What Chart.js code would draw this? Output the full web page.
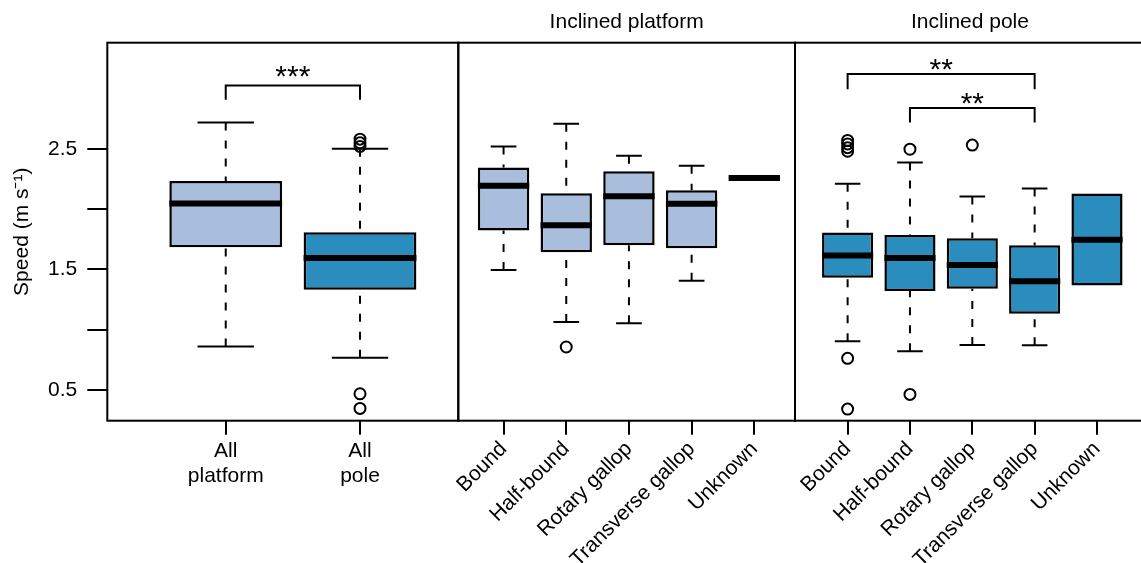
<!DOCTYPE html>
<html>
<head>
<meta charset="utf-8">
<script src="https://cdn.jsdelivr.net/npm/chart.js@4.4.1/dist/chart.umd.min.js"></script>
<style>
  html, body { margin: 0; padding: 0; background: #fff; overflow: hidden; }
  #wrap { position: relative; width: 1141px; height: 563px; overflow: hidden; }
  #wrap canvas { position: absolute; left: 0; top: 0; }
</style>
</head>
<body>
<div id="wrap">
  <canvas id="panelAll" width="1150" height="563"></canvas>
  <canvas id="panelPlatform" width="1150" height="563"></canvas>
  <canvas id="panelPole" width="1150" height="563"></canvas>
</div>
<script>
// --- данные ---
const yTickValues = [0.5, 1, 1.5, 2, 2.5];
const yTickLabels = ['0.5', '', '1.5', '', '2.5'];

// панель 1: все платформы / все шесты
const allCategories = [['All', 'platform'], ['All', 'pole']];
const allLower = [0.862, 0.768];
const allQ1 = [1.684, 1.332];
const allMedian = [2.046, 1.595];
const allQ3 = [2.234, 1.809];
const allUpper = [2.718, 2.500];
const allOutliers = [[], [2.58, 2.55, 2.52, 0.469, 0.348]];

// панель 2: наклонная платформа
const gaitCategories = ['Bound', 'Half-bound', 'Rotary gallop', 'Transverse gallop', 'Unknown'];
const platformLower = [1.496, 1.064, 1.053, 1.407, 2.259];
const platformQ1 = [1.822, 1.643, 1.701, 1.676, 2.259];
const platformMedian = [2.193, 1.867, 2.107, 2.044, 2.259];
const platformQ3 = [2.345, 2.132, 2.315, 2.157, 2.259];
const platformUpper = [2.519, 2.707, 2.442, 2.359, 2.259];
const platformOutliers = [[], [0.857], [], [], []];

// панель 3: наклонный шест
const poleLower = [0.904, 0.821, 0.873, 0.871, 1.366];
const poleQ1 = [1.432, 1.322, 1.341, 1.133, 1.366];
const poleMedian = [1.615, 1.595, 1.537, 1.402, 1.747];
const poleQ3 = [1.806, 1.786, 1.759, 1.701, 2.129];
const poleUpper = [2.210, 2.387, 2.104, 2.171, 2.129];
const poleOutliers = [[2.57, 2.54, 2.51, 2.48, 0.763, 0.342], [2.497, 0.464], [2.531], [], []];

// скобки значимости
const allBracketFrom = [1], allBracketTo = [2];
const allBracketLow = [2.907], allBracketHigh = [3.025];
const allBracketText = ['***'], allBracketTextY = [3.139];

const poleBracketFrom = [1, 2], poleBracketTo = [4, 4];
const poleBracketLow = [2.995, 2.718], poleBracketHigh = [3.12, 2.838];
const poleBracketText = ['**', '**'], poleBracketTextY = [3.197, 2.921];

const LIGHT = '#a9bedd';
const DARK = '#2b8cbe';
const FONT = "'Liberation Sans', Arial, sans-serif";

Chart.defaults.color = '#000';
Chart.defaults.font.family = FONT;
Chart.defaults.font.size = 21;

const frame = {
    id: 'frame',
    afterDraw(chart) {
        const a = chart.chartArea, ctx = chart.ctx;
        ctx.save();
        ctx.lineWidth = 2;
        ctx.strokeStyle = '#000';
        ctx.strokeRect(a.left, a.top, a.right - a.left, a.bottom - a.top);
        ctx.restore();
    }
};

function starsPlugin(from, to, texts, textY) {
    return {
        id: 'stars',
        afterDatasetsDraw(chart) {
            const ctx = chart.ctx, xs = chart.scales.x, ys = chart.scales.y;
            ctx.save();
            ctx.font = '30px ' + FONT;
            ctx.fillStyle = '#000';
            ctx.textAlign = 'center';
            ctx.textBaseline = 'alphabetic';
            texts.forEach((t, i) => {
                const m = ctx.measureText(t);
                const cx = xs.getPixelForValue((from[i] + to[i]) / 2);
                const cy = ys.getPixelForValue(textY[i]);
                ctx.fillText(t, cx, cy + (m.actualBoundingBoxAscent - m.actualBoundingBoxDescent) / 2);
            });
            ctx.restore();
        }
    };
}

function buildPanel(canvasId, opt) {
    const n = opt.median.length;
    const half = opt.boxWidth / 2;
    const staple = opt.boxWidth / 4;

    const boxes = [], medians = [], whiskers = [], caps = [], outliers = [], brackets = [];
    for (let i = 0; i < n; i++) {
        const x = i + 1;
        boxes.push({ x: x, y: [opt.q1[i], opt.q3[i]] });
        medians.push({ x: x - half, y: opt.median[i] }, { x: x + half, y: opt.median[i] }, { x: x, y: null });
        if (opt.upper[i] > opt.q3[i]) {
            whiskers.push({ x: x, y: opt.upper[i] }, { x: x, y: opt.q3[i] }, { x: x, y: null });
            caps.push({ x: x - staple, y: opt.upper[i] }, { x: x + staple, y: opt.upper[i] }, { x: x, y: null });
        }
        if (opt.lower[i] < opt.q1[i]) {
            whiskers.push({ x: x, y: opt.lower[i] }, { x: x, y: opt.q1[i] }, { x: x, y: null });
            caps.push({ x: x - staple, y: opt.lower[i] }, { x: x + staple, y: opt.lower[i] }, { x: x, y: null });
        }
        opt.outliers[i].forEach(v => outliers.push({ x: x, y: v }));
    }
    (opt.bFrom || []).forEach((f, i) => {
        const t = opt.bTo[i];
        brackets.push({ x: f, y: opt.bLow[i] }, { x: f, y: opt.bHigh[i] },
                      { x: t, y: opt.bHigh[i] }, { x: t, y: opt.bLow[i] }, { x: t, y: null });
    });

    const lineBase = { type: 'line', pointRadius: 0, borderColor: '#000', tension: 0, spanGaps: false, borderCapStyle: 'butt' };

    const plugins = [frame];
    if (opt.bText) plugins.push(starsPlugin(opt.bFrom, opt.bTo, opt.bText, opt.bTextY));

    return new Chart(document.getElementById(canvasId), {
        type: 'bar',
        data: {
            datasets: [
                { ...lineBase, data: brackets, borderWidth: 2, order: 0 },
                { ...lineBase, data: medians, borderWidth: 6, order: 0 },
                { type: 'line', showLine: false, data: outliers, pointRadius: 5.5, pointBorderWidth: 2,
                  pointBackgroundColor: 'rgba(0,0,0,0)', pointBorderColor: '#000', order: 1 },
                { type: 'bar', data: boxes, backgroundColor: opt.colors, borderColor: '#000',
                  borderWidth: 2.5, borderSkipped: false, categoryPercentage: 1, barPercentage: opt.boxWidth, order: 2 },
                { ...lineBase, data: whiskers, borderWidth: 2, borderDash: [8, 10], order: 3 },
                { ...lineBase, data: caps, borderWidth: 2, order: 3 }
            ]
        },
        options: {
            responsive: false,
            animation: false,
            layout: { padding: opt.padding },
            plugins: {
                legend: { display: false },
                tooltip: { enabled: false },
                title: opt.title ? {
                    display: true, text: opt.title, color: '#000',
                    font: { size: 21, weight: 'normal' }, padding: { top: 9.6, bottom: 7.9 }
                } : { display: false }
            },
            scales: {
                x: {
                    type: 'linear',
                    min: opt.xMin, max: opt.xMax,
                    offset: false,
                    border: { display: false },
                    grid: { offset: false, drawOnChartArea: false, drawTicks: true, tickLength: 14, color: '#000', lineWidth: 2 },
                    ticks: {
                        autoSkip: false,
                        minRotation: opt.rotate, maxRotation: opt.rotate,
                        padding: opt.rotate ? 2 : 4,
                        callback: (v, i) => opt.categories[i]
                    },
                    afterBuildTicks: s => { s.ticks = opt.categories.map((c, i) => ({ value: i + 1 })); },
                    afterFit: s => {
                        s.height = 142.3;
                        s.paddingLeft = 0; s.paddingRight = 0;
                    }
                },
                y: {
                    type: 'linear',
                    display: opt.showY,
                    min: 0.246, max: 3.38,
                    border: { display: false },
                    grid: { drawOnChartArea: false, drawTicks: true, tickLength: 20, color: '#000', lineWidth: 2 },
                    ticks: { padding: 10, callback: (v, i) => yTickLabels[i] },
                    title: { display: true, text: 'Speed (m s\u207B\u00B9)', font: { size: 21 }, padding: { top: 9.5, bottom: 0 } },
                    afterBuildTicks: s => { s.ticks = yTickValues.map(v => ({ value: v })); },
                    afterFit: s => {
                        s.width = opt.showY ? 107.3 : 0;
                        s.paddingTop = 0; s.paddingBottom = 0;
                    }
                }
            }
        },
        plugins: plugins
    });
}

buildPanel('panelAll', {
    categories: allCategories, lower: allLower, q1: allQ1, median: allMedian, q3: allQ3, upper: allUpper,
    outliers: allOutliers, colors: [LIGHT, DARK], boxWidth: 0.84, rotate: 0, showY: true,
    xMin: 0.118, xMax: 2.732, padding: { left: 0, right: 691.7, top: 42.7, bottom: 0 },
    bFrom: allBracketFrom, bTo: allBracketTo, bLow: allBracketLow, bHigh: allBracketHigh,
    bText: allBracketText, bTextY: allBracketTextY
});

buildPanel('panelPlatform', {
    categories: gaitCategories, lower: platformLower, q1: platformQ1, median: platformMedian, q3: platformQ3,
    upper: platformUpper, outliers: platformOutliers, colors: LIGHT, boxWidth: 0.82, rotate: 45, showY: false,
    xMin: 0.278, xMax: 5.649, padding: { left: 458.3, right: 355, top: 0, bottom: 0 },
    title: 'Inclined platform'
});

buildPanel('panelPole', {
    categories: gaitCategories, lower: poleLower, q1: poleQ1, median: poleMedian, q3: poleQ3,
    upper: poleUpper, outliers: poleOutliers, colors: DARK, boxWidth: 0.82, rotate: 45, showY: false,
    xMin: 0.156, xMax: 5.73, padding: { left: 795, right: 5, top: 0, bottom: 0 },
    title: 'Inclined pole',
    bFrom: poleBracketFrom, bTo: poleBracketTo, bLow: poleBracketLow, bHigh: poleBracketHigh,
    bText: poleBracketText, bTextY: poleBracketTextY
});
</script>
</body>
</html>
